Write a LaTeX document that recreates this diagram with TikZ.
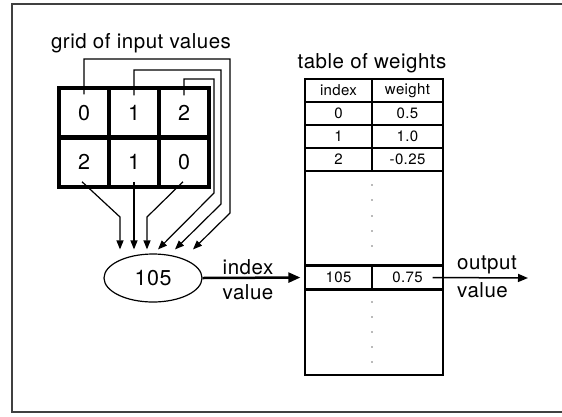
\documentclass[tikz,border=0pt]{standalone}
\usepackage{fontspec}
\setmainfont{TeX Gyre Heros}[LetterSpace=2.5]
\usetikzlibrary{arrows.meta,calc,shapes.geometric}
\tikzset{
  gcell/.style={draw, line width=3.5pt, minimum width=50pt, minimum height=50pt, inner sep=0pt, font=\fontsize{21.5}{24}\selectfont},
  wire/.style={line width=1.2pt, -{Triangle[length=9pt,width=7pt]}},
  tcell/.style={draw, line width=1.3pt, minimum height=23pt, inner sep=0pt, font=\fontsize{15}{17}\selectfont},
  lcol/.style={tcell, minimum width=67pt},
  rcol/.style={tcell, minimum width=71pt},
  lbl/.style={font=\fontsize{20.5}{23}\selectfont, inner sep=0pt},
  thickline/.style={line width=2.5pt},
}
\begin{document}
\begin{tikzpicture}[x=1pt,y=-1pt]
\useasboundingbox (0,0) rectangle (562,416);
% frame
\draw[line width=2pt, black!75] (562,4) -- (12,4) -- (12,412) -- (562,412);
% titles
\node[lbl] (gt) at (141,43) {grid of input values};
\node[lbl] (tt) at (372,63) {table of weights};
% grid
\node[gcell] (c00) at (84,113) {0};
\node[gcell] (c01) at (134,113) {1};
\node[gcell] (c02) at (184,113) {2};
\node[gcell] (c10) at (84,162) {2};
\node[gcell] (c11) at (134,162) {1};
\node[gcell] (c12) at (184,162) {0};
% ellipse
\node[draw, ellipse, line width=1.2pt, minimum width=98pt, minimum height=48pt, inner sep=0pt, font=\fontsize{21.5}{24}\selectfont] (e) at (153,278) {105};
% wires from top row
\draw[wire] ($(c00.north)+(0,8)$) |- (230,59) -- (230,213) -- ($(e.north)+(40,-4)$);
\draw[wire] ($(c01.north)+(0,9)$) |- (221,70) -- (221,204) -- ($(e.north)+(22,-4)$);
\draw[wire] ($(c02.north)+(0,9)$) |- (214,79) -- (214,193) -- ($(e.north)+(5,-4)$);
% wires from bottom row
\draw[wire] ($(c10.south)+(-2,-7)$) -- (120,217) -- ($(e.north)+(-33,-4)$);
\draw[wire] ($(c11.south)+(0,-7)$) -- ($(e.north)+(-19,-4)$);
\draw[wire] ($(c12.south)+(-1,-7)$) -- (147,217) -- ($(e.north)+(-6,-4)$);
% table
\node[lcol] (h1) at (338.5,90.5) {index};
\node[rcol] (h2) at (407.5,90.5) {weight};
\node[lcol] (a0) at (338.5,113.5) {0};
\node[rcol] (b0) at (407.5,113.5) {0.5};
\node[lcol] (a1) at (338.5,136.5) {1};
\node[rcol] (b1) at (407.5,136.5) {1.0};
\node[lcol] (a2) at (338.5,159.5) {2};
\node[rcol] (b2) at (407.5,159.5) {-0.25};
\node[lcol] (r105a) at (338.5,277.5) {105};
\node[rcol] (r105b) at (407.5,277.5) {0.75};
\draw[thickline] (r105a.north west) -- (r105b.north east);
\draw[thickline] (r105a.south west) -- (r105b.south east);
\node[draw, line width=2.5pt, minimum width=138pt, minimum height=296pt, inner sep=0pt] (tbl) at (374,227) {};
\foreach \yy in {185,200,216,231,246,302,317,332,347,362}
  \fill[black!55] (372,\yy) circle (0.8pt);
% index arrow
\draw[line width=2.5pt, -{Triangle[length=12pt,width=10pt]}, shorten >=4pt] (e.east) -- (r105a.west);
\node[lbl] (il) at (248,267) {index};
\node[lbl] (vl) at (248,292) {value};
% output arrow
\coordinate (out) at (528,278);
\draw[line width=1.5pt, -{Triangle[length=10pt,width=8pt]}] ($(r105b.east)+(-11,0)$) -- (out);
\node[lbl, anchor=west] (ol) at (457,265) {output};
\node[lbl, anchor=west] (ov) at (457,290) {value};
\end{tikzpicture}
\end{document}
